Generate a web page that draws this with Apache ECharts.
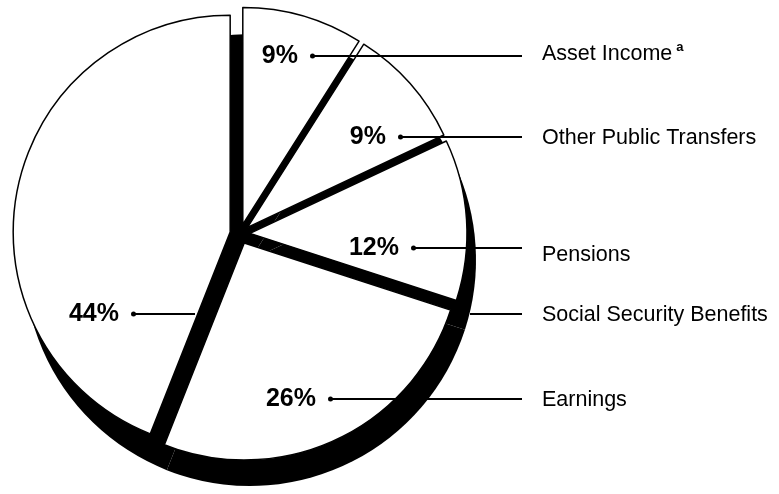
<!DOCTYPE html>
<html>
<head>
<meta charset="utf-8">
<script src="https://cdn.jsdelivr.net/npm/echarts@6/dist/echarts.min.js"></script>
<style>
  html, body { margin: 0; padding: 0; background: #fff; }
  #chart { width: 779px; height: 494px; }
</style>
</head>
<body>
<div id="chart"></div>
<script>
// ---- data (clockwise from 12 o'clock) ----
const categories = ['Asset Income', 'Other Public Transfers', 'Pensions', 'Earnings', 'Social Security Benefits'];
const shares = [9, 9, 12, 26, 44];
const footnoteMark = ['a', '', '', '', ''];

// ---- label layout (annotation positions, px) ----
const rowLineY = [56, 137, 248, 399, 314];
const rowNameY = [54, 138, 255, 400, 315];
const dotX = [312, 400, 413, 330, 133];
const nameLineStartX = [312, 400, 413, 330, 470];
const nameX = 542;
const lineEndX = 522;
const ssInnerLineEnd = 195;

const FONT = '"Liberation Sans", Arial, Helvetica, sans-serif';

const chart = echarts.init(document.getElementById('chart'), null, { renderer: 'canvas' });

const baseData = categories.map((c, i) => ({ name: c, value: shares[i] }));

const hiddenPie = {
  type: 'pie',
  center: [240, 234],
  radius: 217,
  startAngle: 90,
  clockwise: true,
  silent: true,
  z: 6,
  avoidLabelOverlap: false,
  emphasis: { disabled: true },
  itemStyle: { color: 'rgba(0,0,0,0)', borderWidth: 0 }
};

const option = {
  animation: false,
  backgroundColor: '#ffffff',
  series: [
    {
      // dark "depth" of the 3-D pie
      type: 'pie',
      center: [250, 260],
      radius: 226,
      startAngle: 90,
      clockwise: true,
      silent: true,
      z: 2,
      avoidLabelOverlap: false,
      label: { show: false },
      labelLine: { show: false },
      emphasis: { disabled: true },
      itemStyle: { color: '#000000', borderWidth: 0 },
      data: baseData.map(d => ({ ...d }))
    },
    {
      // white exploded slices
      type: 'pie',
      center: [240, 234],
      radius: 217,
      startAngle: 90,
      clockwise: true,
      selectedMode: 'multiple',
      selectedOffset: 10,
      z: 3,
      avoidLabelOverlap: false,
      emphasis: { disabled: true },
      itemStyle: { color: '#ffffff', borderColor: '#000000', borderWidth: 1.5 },
      select: { itemStyle: { color: '#ffffff', borderColor: '#000000', borderWidth: 1.5 } },
      label: { show: false },
      labelLine: { show: false },
      data: baseData.map(d => ({ ...d, selected: true }))
    },
    Object.assign({}, hiddenPie, {
      // percentage labels
      label: {
        show: true,
        position: 'outside',
        formatter: p => '{p|' + p.value + '%}{s| }{d| }',
        rich: {
          p: { fontFamily: FONT, fontWeight: 'bold', fontSize: 25, color: '#000', verticalAlign: 'middle', lineHeight: 28 },
          s: { width: 12, verticalAlign: 'middle' },
          d: { width: 5, height: 5, backgroundColor: '#000', borderRadius: 3, verticalAlign: 'middle', fontSize: 4, lineHeight: 5 }
        }
      },
      labelLine: { show: false, lineStyle: { color: '#000', width: 2 } },
      labelLayout: p => ({
        x: dotX[p.dataIndex] + 3,
        y: rowLineY[p.dataIndex],
        align: 'right',
        verticalAlign: 'middle',
        labelLinePoints: [
          [dotX[p.dataIndex], rowLineY[p.dataIndex]],
          [(dotX[p.dataIndex] + ssInnerLineEnd) / 2, rowLineY[p.dataIndex]],
          [ssInnerLineEnd, rowLineY[p.dataIndex]]
        ]
      }),
      data: baseData.map((d, i) => ({
        ...d,
        labelLine: { show: i === 4, lineStyle: { color: '#000', width: 2 } }
      }))
    }),
    Object.assign({}, hiddenPie, {
      // category names with leader lines
      label: {
        show: true,
        position: 'outside',
        formatter: p => '{t|' + p.name + '}' + (footnoteMark[p.dataIndex] ? '{g| }{sup|' + footnoteMark[p.dataIndex] + '}' : ''),
        rich: {
          t: { fontFamily: FONT, fontSize: 21.5, color: '#000', lineHeight: 26 },
          g: { width: 4 },
          sup: { fontFamily: FONT, fontSize: 13, fontWeight: 'bold', color: '#000', verticalAlign: 'top', lineHeight: 26, padding: [0, 0, 10, 0] }
        }
      },
      labelLine: { show: true, lineStyle: { color: '#000', width: 2 } },
      labelLayout: p => ({
        x: nameX,
        y: rowNameY[p.dataIndex],
        align: 'left',
        verticalAlign: 'middle',
        labelLinePoints: [
          [nameLineStartX[p.dataIndex], rowLineY[p.dataIndex]],
          [(nameLineStartX[p.dataIndex] + lineEndX) / 2, rowLineY[p.dataIndex]],
          [lineEndX, rowLineY[p.dataIndex]]
        ]
      }),
      data: baseData.map(d => ({ ...d }))
    })
  ]
};

chart.setOption(option);
</script>
</body>
</html>
